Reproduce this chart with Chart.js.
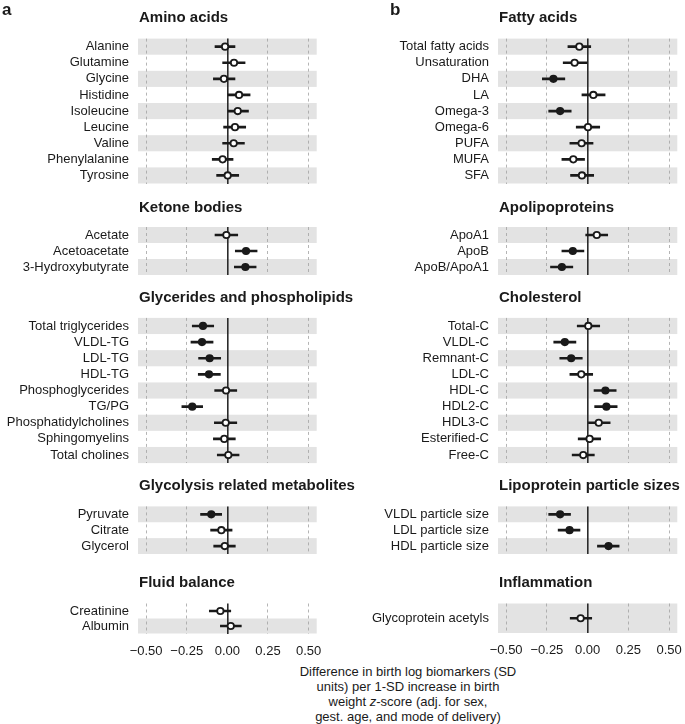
<!DOCTYPE html>
<html>
<head>
<meta charset="utf-8">
<script src="https://cdn.jsdelivr.net/npm/chart.js@4.4.1/dist/chart.umd.min.js"></script>
<style>
  body { margin: 0; background: #fff; width: 685px; height: 724px; position: relative; overflow: hidden; font-family: "Liberation Sans", Arial, sans-serif; }
  canvas { position: absolute; }
  #xTitle { position: absolute; left: 258px; width: 300px; top: 664px; text-align: center; font-size: 13px; line-height: 15px; color: #1a1a1a; }
</style>
</head>
<body>
<div id="xTitle">Difference in birth log biomarkers (SD<br>units) per 1-SD increase in birth<br>weight <i>z</i>-score (adj. for sex,<br>gest. age, and mode of delivery)</div>
<script>
// x axis ticks
const xTickValues = [-0.5, -0.25, 0, 0.25, 0.5];

// a) amino acids
const aminoLabels = ['Alanine', 'Glutamine', 'Glycine', 'Histidine', 'Isoleucine', 'Leucine', 'Valine', 'Phenylalanine', 'Tyrosine'];
const aminoEst  = [-0.014, 0.041, -0.021, 0.072, 0.064, 0.047, 0.039, -0.029, 0.002];
const aminoLow  = [-0.076, -0.029, -0.086, 0.004, 0.000, -0.023, -0.029, -0.093, -0.066];
const aminoHigh = [0.047, 0.109, 0.047, 0.140, 0.130, 0.113, 0.105, 0.035, 0.070];
const aminoSig  = [0, 0, 0, 0, 0, 0, 0, 0, 0];

// ketone bodies
const ketoneLabels = ['Acetate', 'Acetoacetate', '3-Hydroxybutyrate'];
const ketoneEst  = [-0.006, 0.115, 0.111];
const ketoneLow  = [-0.076, 0.049, 0.043];
const ketoneHigh = [0.064, 0.183, 0.177];
const ketoneSig  = [0, 1, 1];

// glycerides and phospholipids
const glycLabels = ['Total triglycerides', 'VLDL-TG', 'LDL-TG', 'HDL-TG', 'Phosphoglycerides', 'TG/PG', 'Phosphatidylcholines', 'Sphingomyelins', 'Total cholines'];
const glycEst  = [-0.150, -0.156, -0.109, -0.113, -0.008, -0.216, -0.010, -0.019, 0.006];
const glycLow  = [-0.216, -0.224, -0.177, -0.179, -0.078, -0.280, -0.080, -0.086, -0.062];
const glycHigh = [-0.084, -0.088, -0.041, -0.043, 0.058, -0.152, 0.058, 0.049, 0.072];
const glycSig  = [1, 1, 1, 1, 0, 1, 0, 0, 0];

// glycolysis related metabolites
const glycolLabels = ['Pyruvate', 'Citrate', 'Glycerol'];
const glycolEst  = [-0.099, -0.037, -0.016];
const glycolLow  = [-0.165, -0.103, -0.084];
const glycolHigh = [-0.035, 0.029, 0.049];
const glycolSig  = [1, 0, 0];

// fluid balance
const fluidLabels = ['Creatinine', 'Albumin'];
const fluidEst  = [-0.043, 0.021];
const fluidLow  = [-0.111, -0.043];
const fluidHigh = [0.021, 0.086];
const fluidSig  = [0, 0];

// b) fatty acids
const fattyLabels = ['Total fatty acids', 'Unsaturation', 'DHA', 'LA', 'Omega-3', 'Omega-6', 'PUFA', 'MUFA', 'SFA'];
const fattyEst  = [-0.051, -0.080, -0.210, 0.035, -0.169, 0.002, -0.037, -0.088, -0.035];
const fattyLow  = [-0.121, -0.150, -0.278, -0.035, -0.239, -0.070, -0.109, -0.158, -0.105];
const fattyHigh = [0.019, -0.004, -0.140, 0.107, -0.101, 0.074, 0.033, -0.019, 0.037];
const fattySig  = [0, 0, 1, 0, 1, 0, 0, 0, 0];

// apolipoproteins
const apoLabels = ['ApoA1', 'ApoB', 'ApoB/ApoA1'];
const apoEst  = [0.056, -0.091, -0.158];
const apoLow  = [-0.012, -0.158, -0.228];
const apoHigh = [0.123, -0.023, -0.091];
const apoSig  = [0, 1, 1];

// cholesterol
const cholLabels = ['Total-C', 'VLDL-C', 'Remnant-C', 'LDL-C', 'HDL-C', 'HDL2-C', 'HDL3-C', 'Esterified-C', 'Free-C'];
const cholEst  = [0.004, -0.140, -0.101, -0.039, 0.109, 0.115, 0.068, 0.012, -0.027];
const cholLow  = [-0.064, -0.208, -0.171, -0.109, 0.039, 0.043, 0.000, -0.058, -0.095];
const cholHigh = [0.074, -0.072, -0.033, 0.031, 0.175, 0.181, 0.138, 0.080, 0.041];
const cholSig  = [0, 1, 1, 0, 1, 1, 0, 0, 0];

// lipoprotein particle sizes
const sizeLabels = ['VLDL particle size', 'LDL particle size', 'HDL particle size'];
const sizeEst  = [-0.169, -0.111, 0.128];
const sizeLow  = [-0.239, -0.181, 0.060];
const sizeHigh = [-0.105, -0.047, 0.193];
const sizeSig  = [1, 1, 1];

// inflammation
const inflLabels = ['Glycoprotein acetyls'];
const inflEst  = [-0.043];
const inflLow  = [-0.107];
const inflHigh = [0.025];
const inflSig  = [0];

Chart.defaults.font.family = '"Liberation Sans", Arial, sans-serif';
Chart.defaults.font.size = 13;
Chart.defaults.color = '#1a1a1a';

// column geometry: canvas left, canvas width, plot left, plot right
// (left canvases are wider so long section titles are not cut off)
const columns = [
  { left: 0, width: 420, plotLeft: 138, plotRight: 316.7, letter: 'a', letterX: 2 },
  { left: 342, width: 343, plotLeft: 498, plotRight: 677.3, letter: 'b', letterX: 390 }
];

const panels = [
  { col: 0, title: 'Amino acids', labels: aminoLabels, est: aminoEst, low: aminoLow, high: aminoHigh, sig: aminoSig, titleY: 18.3, top: 38.6, bottom: 183.5, first: true },
  { col: 0, title: 'Ketone bodies', labels: ketoneLabels, est: ketoneEst, low: ketoneLow, high: ketoneHigh, sig: ketoneSig, titleY: 207.7, top: 227.0, bottom: 275.0 },
  { col: 0, title: 'Glycerides and phospholipids', labels: glycLabels, est: glycEst, low: glycLow, high: glycHigh, sig: glycSig, titleY: 298.3, top: 317.9, bottom: 463.1 },
  { col: 0, title: 'Glycolysis related metabolites', labels: glycolLabels, est: glycolEst, low: glycolLow, high: glycolHigh, sig: glycolSig, titleY: 485.7, top: 506.4, bottom: 554.0 },
  { col: 0, title: 'Fluid balance', labels: fluidLabels, est: fluidEst, low: fluidLow, high: fluidHigh, sig: fluidSig, titleY: 582.7, top: 603.5, bottom: 633.5, axis: true },
  { col: 1, title: 'Fatty acids', labels: fattyLabels, est: fattyEst, low: fattyLow, high: fattyHigh, sig: fattySig, titleY: 18.3, top: 38.6, bottom: 183.5, first: true },
  { col: 1, title: 'Apolipoproteins', labels: apoLabels, est: apoEst, low: apoLow, high: apoHigh, sig: apoSig, titleY: 207.7, top: 227.0, bottom: 275.0 },
  { col: 1, title: 'Cholesterol', labels: cholLabels, est: cholEst, low: cholLow, high: cholHigh, sig: cholSig, titleY: 298.3, top: 317.9, bottom: 463.1 },
  { col: 1, title: 'Lipoprotein particle sizes', labels: sizeLabels, est: sizeEst, low: sizeLow, high: sizeHigh, sig: sizeSig, titleY: 485.7, top: 506.4, bottom: 554.0 },
  { col: 1, title: 'Inflammation', labels: inflLabels, est: inflEst, low: inflLow, high: inflHigh, sig: inflSig, titleY: 582.7, top: 603.5, bottom: 633.0, axis: true }
];

// grey bands on alternating rows (counted from the bottom row), under the grid
const rowBands = {
  id: 'rowBands',
  beforeDraw(chart) {
    const { ctx, chartArea: a, scales: { y } } = chart;
    const n = chart.data.labels.length;
    const h = (a.bottom - a.top) / n;
    ctx.save();
    ctx.fillStyle = '#e3e3e3';
    for (let i = 0; i < n; i++) {
      if ((n - 1 - i) % 2) continue;
      const c = y.getPixelForValue(i);
      ctx.fillRect(a.left, c - h / 2, a.right - a.left, h);
    }
    ctx.restore();
  }
};

// bold section title over the plot area, plus the panel letter
const panelTitle = {
  id: 'panelTitle',
  afterDraw(chart, args, opts) {
    const ctx = chart.ctx;
    ctx.save();
    ctx.fillStyle = '#1a1a1a';
    ctx.textBaseline = 'middle';
    ctx.textAlign = 'left';
    ctx.font = 'bold 15px "Liberation Sans", Arial, sans-serif';
    ctx.fillText(opts.text, chart.chartArea.left + 1, opts.y);
    if (opts.letter) {
      ctx.font = 'bold 17px "Liberation Sans", Arial, sans-serif';
      ctx.fillText(opts.letter, opts.letterX, 10);
    }
    ctx.restore();
  }
};

function fmtTick(v) {
  return (v < 0 ? '\u2212' : '') + Math.abs(v).toFixed(2);
}

panels.forEach(function(p) {
  const col = columns[p.col];
  const canvasTop = p.first ? 0 : Math.floor(p.titleY - 16);
  const canvasBottom = p.axis ? 668 : Math.ceil(p.bottom + 22);
  const axisHeight = 10 + 13 * 1.2;

  const cv = document.createElement('canvas');
  cv.width = col.width;
  cv.height = canvasBottom - canvasTop;
  cv.style.left = col.left + 'px';
  cv.style.top = canvasTop + 'px';
  document.body.appendChild(cv);

  new Chart(cv, {
    type: 'bar',
    data: {
      labels: p.labels,
      datasets: [
        {
          type: 'line',
          data: p.est,
          showLine: false,
          pointRadius: 3.2,
          pointHoverRadius: 3.2,
          pointBorderWidth: 1.8,
          pointBorderColor: '#1a1a1a',
          pointBackgroundColor: p.sig.map(s => s ? '#1a1a1a' : '#ffffff'),
          order: 0
        },
        {
          type: 'bar',
          data: p.low.map((l, i) => [l, p.high[i]]),
          backgroundColor: '#1a1a1a',
          borderWidth: 0,
          barThickness: 2,
          order: 1
        }
      ]
    },
    options: {
      indexAxis: 'y',
      responsive: false,
      animation: false,
      events: [],
      layout: {
        padding: {
          left: 0,
          top: p.top - canvasTop,
          right: col.left + col.width - col.plotRight,
          bottom: p.axis ? (canvasBottom - p.bottom - axisHeight) : (canvasBottom - p.bottom)
        }
      },
      plugins: {
        legend: { display: false },
        tooltip: { enabled: false },
        panelTitle: {
          text: p.title,
          y: p.titleY - canvasTop,
          letter: p.first ? col.letter : null,
          letterX: col.letterX - col.left
        }
      },
      scales: {
        x: {
          type: 'linear',
          min: -0.55,
          max: 0.55,
          afterBuildTicks: s => { s.ticks = xTickValues.map(v => ({ value: v })); },
          grid: {
            color: c => c.tick && c.tick.value === 0 ? '#2b2b2b' : '#a3a3a3',
            lineWidth: c => c.tick && c.tick.value === 0 ? 1.6 : 0.8,
            drawTicks: !!p.axis,
            tickLength: 10,
            tickColor: 'rgba(0,0,0,0)'
          },
          border: {
            display: false,
            dash: c => c.tick && c.tick.value !== 0 ? [3, 3] : []
          },
          ticks: {
            display: !!p.axis,
            padding: 0,
            maxRotation: 0,
            font: { size: 13 },
            color: '#1a1a1a',
            callback: v => fmtTick(v)
          }
        },
        y: {
          type: 'category',
          offset: true,
          grid: { display: false, drawTicks: false },
          border: { display: false },
          ticks: { autoSkip: false, padding: 9, font: { size: 13 }, color: '#1a1a1a' },
          afterFit: s => { s.width = col.plotLeft - col.left; }
        }
      }
    },
    plugins: [rowBands, panelTitle]
  });
});
</script>
</body>
</html>
